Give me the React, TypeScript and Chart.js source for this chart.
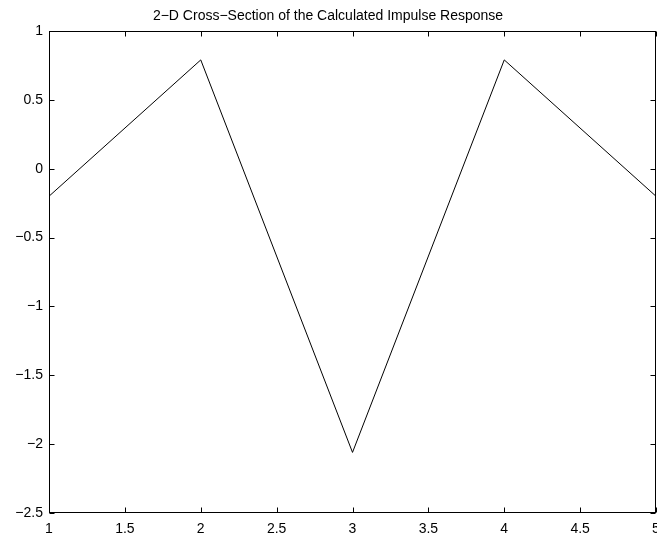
import React, { useEffect, useRef } from "react";
import { Chart, registerables } from "chart.js";

Chart.register(...registerables);

const titleText = "2\u2212D Cross\u2212Section of the Calculated Impulse Response";
const xValues = [1, 2, 3, 4, 5];
const yValues = [-0.2, 0.79, -2.06, 0.79, -0.2];
const xRange = [1, 5];
const yRange = [-2.5, 1];
const tickStep = 0.5;

const fmt = (v: number) => {
  const s = String(Math.round(v * 100) / 100);
  return s.replace("-", "\u2212");
};

const framePlugin = {
  id: "frameTicks",
  afterDraw(chart: any) {
    const { ctx, chartArea } = chart;
    const { left, right, top, bottom } = chartArea;
    const xs = chart.scales.x;
    const ys = chart.scales.y;
    const L = Math.round(left) + 0.5;
    const R = Math.round(right) - 0.5;
    const T = Math.round(top) + 0.5;
    const B = Math.round(bottom) - 0.5;
    ctx.save();
    ctx.strokeStyle = "#000";
    ctx.lineWidth = 1;
    ctx.strokeRect(L, T, R - L, B - T);
    const tl = 5;
    ctx.beginPath();
    xs.ticks.forEach((t: any) => {
      const px = Math.round(xs.getPixelForValue(t.value)) + 0.5;
      ctx.moveTo(px, B);
      ctx.lineTo(px, B - tl);
      ctx.moveTo(px, T);
      ctx.lineTo(px, T + tl);
    });
    ys.ticks.forEach((t: any) => {
      const py = Math.round(ys.getPixelForValue(t.value)) + 0.5;
      ctx.moveTo(L, py);
      ctx.lineTo(L + tl, py);
      ctx.moveTo(R, py);
      ctx.lineTo(R - tl, py);
    });
    ctx.stroke();
    ctx.restore();
  },
};

export default function App() {
  const ref = useRef<HTMLCanvasElement | null>(null);
  useEffect(() => {
    if (!ref.current) return;
    const font = { family: "'Liberation Sans', Arial, Helvetica, sans-serif", size: 14 };
    const chart = new Chart(ref.current, {
      type: "line",
      data: {
        datasets: [
          {
            data: xValues.map((x, i) => ({ x, y: yValues[i] })),
            borderColor: "#000",
            borderWidth: 1,
            pointRadius: 0,
            tension: 0,
            fill: false,
          },
        ],
      },
      options: {
        animation: false,
        responsive: true,
        maintainAspectRatio: false,
        layout: { padding: { left: 0, right: 1, top: 0, bottom: 0 } },
        plugins: {
          legend: { display: false },
          tooltip: { enabled: false },
          title: {
            display: true,
            text: titleText,
            color: "#000",
            font: { ...font, weight: "normal" },
            padding: { top: 7.5, bottom: 6.7 },
          },
        },
        scales: {
          x: {
            type: "linear",
            min: xRange[0],
            max: xRange[1],
            grid: { display: false, drawTicks: false },
            border: { display: false },
            ticks: {
              stepSize: tickStep,
              color: "#000",
              font,
              padding: 8,
              maxRotation: 0,
              autoSkip: false,
              callback: (v: any) => fmt(Number(v)),
            },
            afterFit: (s: any) => {
              s.height = 23;
              s.paddingLeft = 0;
              s.paddingRight = 0;
            },
          },
          y: {
            type: "linear",
            min: yRange[0],
            max: yRange[1],
            grid: { display: false, drawTicks: false },
            border: { display: false },
            ticks: {
              stepSize: tickStep,
              color: "#000",
              font,
              padding: 6,
              autoSkip: false,
              callback: (v: any) => fmt(Number(v)),
            },
            afterFit: (s: any) => {
              s.width = 49;
              s.paddingTop = 0;
              s.paddingBottom = 0;
            },
          },
        },
      },
      plugins: [framePlugin],
    });
    return () => chart.destroy();
  }, []);
  return (
    <div style={{ position: "fixed", left: 0, top: 0, width: 657, height: 536, background: "#fff" }}>
      <canvas ref={ref} />
    </div>
  );
}
